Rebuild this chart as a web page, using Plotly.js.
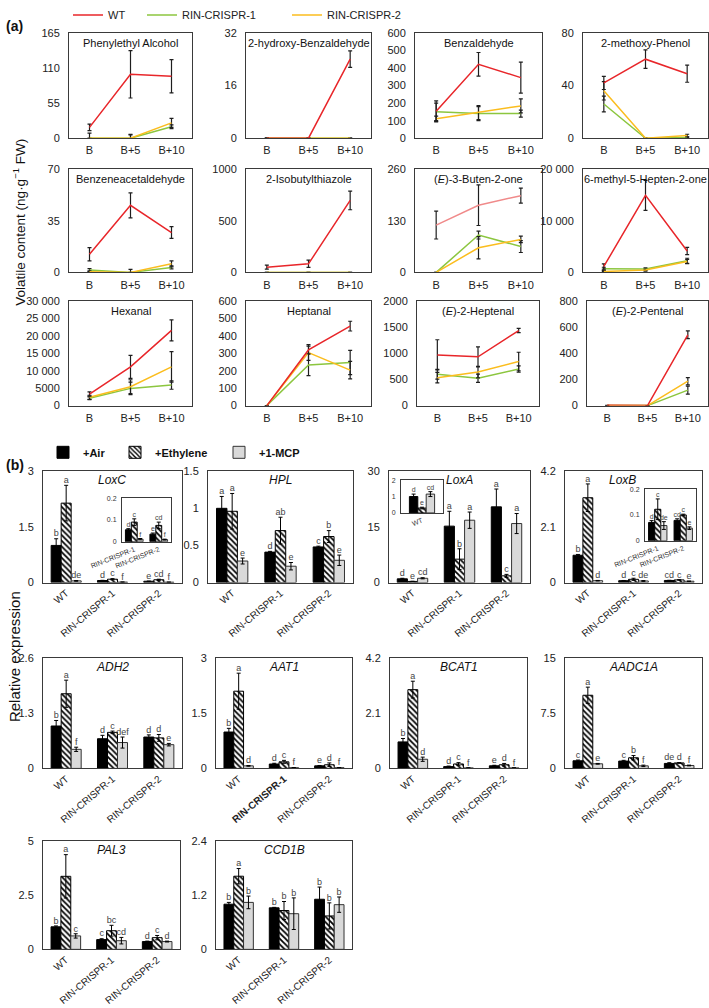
<!DOCTYPE html>
<html><head><meta charset="utf-8">
<script src="https://cdn.plot.ly/plotly-3.0.1.min.js"></script>
<style>html,body{margin:0;padding:0;background:#fff;} #chart{width:709px;height:1008px;}</style>
</head><body><div id="chart"></div>
<script>
// ---------- Panel (a) data ----------
const timePoints = ['B', 'B+5', 'B+10'];
const compounds = ['Phenylethyl Alcohol', '2-hydroxy-Benzaldehyde', 'Benzaldehyde', '2-methoxy-Phenol',
  'Benzeneacetaldehyde', '2-Isobutylthiazole', '(<i>E</i>)-3-Buten-2-one', '6-methyl-5-Hepten-2-one',
  'Hexanal', 'Heptanal', '(<i>E</i>)-2-Heptenal', '(<i>E</i>)-2-Pentenal'];
const compoundTicks = [[0,55,110,165],[0,16,32],[0,100,200,300,400,500,600],[0,40,80],
  [0,35,70],[0,500,1000],[0,130,260],[0,10000,20000],
  [0,5000,10000,15000,20000,25000,30000],[0,100,200,300,400,500,600],[0,500,1000,1500,2000],[0,200,400,600,800]];
const wtMean   = [[17,100,97],[0,0,24],[153,421,345],[42,60,49],[12.3,45.4,27],[51,83,696],[119,169,193],[1150,14900,4150],[3330,11140,21620],[0,320,457],[972,934,1438],[2,0,543]];
const wtErr    = [[5,37,26],[0,0,2.5],[60,67,88],[5,7,6.5],[4.5,8.5,4],[20,35,90],[35,51,19],[500,2900,700],[600,3300,3000],[0,22,28],[290,190,40],[0,0,30]];
const rin1Mean = [[0,0,18],[0,0,0],[150,140,140],[26,0,0.5],[1.6,0,3.4],[0,0,0],[0,94,65],[700,640,2240],[2100,4950,5900],[0,234,248],[600,524,700],[0,0,119]];
const rin1Err  = [[0,6,3],[0,0,0],[50,40,20],[6,0,0.5],[1,0,1],[0,0,0],[0,10,15],[300,250,500],[400,1800,1200],[0,62,70],[94,80,60],[0,0,31]];
const rin2Mean = [[0,0,24],[0,0,0],[111,146,184],[36,0,2],[0.5,0,5.8],[0,0,0],[0,62,83],[190,450,2100],[2380,5430,11140],[0,305,204],[536,643,845],[0,0,187]];
const rin2Err  = [[8,5,7],[0,0,0],[15,40,40],[7,0,1],[0.5,2,2],[0,0,0],[0,28,8],[100,200,400],[600,2000,4400],[0,45,50],[100,110,177],[0,0,28]];

// ---------- Panel (b) data ----------
const genotypes = ['WT', 'RIN-CRISPR-1', 'RIN-CRISPR-2'];
const genes = ['LoxC','HPL','LoxA','LoxB','ADH2','AAT1','BCAT1','AADC1A','PAL3','CCD1B'];
const geneTicks = [[0,1.5,3],[0,0.5,1,1.5],[0,15,30],[0,2.1,4.2],[0,1.3,2.6],[0,1.5,3],[0,2.1,4.2],[0,7.5,15],[0,2.5,5],[0,1.2,2.4]];
const airMean = [[1.0,0.055,0.035],[1.0,0.41,0.48],[1.0,15.2,20.4],[1.03,0.071,0.079],[1.0,0.70,0.74],[0.99,0.12,0.07],[1.01,0.07,0.1],[1.04,1.0,0.68],[1.04,0.45,0.36],[1.0,0.92,1.11]];
const airErr  = [[0.18,0.005,0.005],[0.16,0.01,0.01],[0.15,4,4.8],[0.03,0.007,0.006],[0.13,0.08,0.05],[0.1,0.02,0.01],[0.13,0.02,0.02],[0.1,0.1,0.1],[0.04,0.04,0.02],[0.04,0.01,0.27]];
const ethMean = [[2.14,0.09,0.075],[0.96,0.70,0.62],[0.3,6.3,1.8],[3.2,0.122,0.1],[1.76,0.85,0.72],[2.1,0.18,0.1],[3.0,0.17,0.14],[9.95,1.45,0.75],[3.37,0.86,0.54],[1.62,0.86,0.74]];
const ethErr  = [[0.48,0.015,0.015],[0.24,0.18,0.08],[0.05,2.8,0.4],[0.52,0.04,0.003],[0.32,0.03,0.08],[0.49,0.04,0.05],[0.32,0.05,0.05],[1.1,0.3,0.05],[1.0,0.25,0.1],[0.17,0.2,0.29]];
const mcpMean = [[0.045,0.012,0.01],[0.29,0.22,0.30],[1.15,16.8,15.9],[0.07,0.059,0.049],[0.45,0.61,0.56],[0.07,0.02,0.02],[0.35,0.02,0.02],[0.63,0.35,0.4],[0.62,0.4,0.36],[1.04,0.79,0.99]];
const mcpErr  = [[0.01,0.003,0.002],[0.04,0.05,0.07],[0.15,2.2,2.7],[0.01,0.015,0.005],[0.05,0.13,0.03],[0.01,0.005,0.005],[0.08,0.005,0.005],[0.05,0.1,0.05],[0.1,0.15,0.02],[0.14,0.35,0.17]];
const airLetters = [['b','d','e'],['a','d','c'],['d','a','a'],['b','d','cd'],['b','d','d'],['b','d','e'],['b','d','e'],['c','c','de'],['b','c','d'],['b','b','b']];
const ethLetters = [['a','c','cd'],['a','ab','b'],['e','b','c'],['a','c','c'],['a','c','d'],['a','c','d'],['a','c','d'],['a','b','d'],['a','bc','c'],['a','b','b']];
const mcpLetters = [['de','f','f'],['e','e','e'],['cd','a','a'],['d','de','e'],['f','def','e'],['d','f','f'],['d','f','f'],['e','f','f'],['c','cd','d'],['b','b','b']];
// insets (subset of the same data)
const insetGenes = ['LoxC','LoxA','LoxB'];
const insetGenotypeIdx = [[1,2],[0],[1,2]];
const insetTicks = [[0,0.1,0.2],[0,1,2],[0,0.1,0.2]];

// ---------- Layout helpers ----------
const W = 709, H = 1008;
const FONT = 'Arial, "Liberation Sans", sans-serif';
function dom(b){ return {x:[b[0]/W, b[1]/W], y:[1-b[3]/H, 1-b[2]/H]}; }
function fmt(v){ if (Math.abs(v) >= 10000) return String(v).replace(/\B(?=(\d{3})+(?!\d))/g, ' '); return String(v); }
const aBoxes = [[69,192,27,133],[246,371,27,133],[415,542,27,133],[583,708,27,133],
  [69,192,164,268],[246,371,164,268],[415,542,164,268],[583,708,164,268],
  [69,192,297,402],[246,371,297,402],[417,539,297,402],[587,708,297,402]];
const bBoxes = [[43,182,468,580],[208,353,468,580],[389,530,468,580],[565,702,468,580],
  [43,182,656,767],[216,352,656,767],[390,527,656,767],[565,702,656,767],
  [43,180,840,949],[216,352,840,949]];
const insetBoxes = [[122,171,495,539],[401,443,477,510],[645,696,486,538]];

const traces = [];
const layout = {
  width: W, height: H, margin:{l:0,r:0,t:0,b:0}, paper_bgcolor:'#fff', plot_bgcolor:'rgba(0,0,0,0)',
  font:{family:FONT, size:11, color:'#222'}, showlegend:true, annotations:[], shapes:[]
};
function axName(k){ return k===1 ? '' : String(k); }
function baseAx(extra){
  return Object.assign({showline:true, mirror:true, linecolor:'#3a3a3a', linewidth:1, showgrid:false,
    zeroline:false, ticks:'', fixedrange:true, automargin:false, tickfont:{family:FONT, size:11, color:'#222'}}, extra);
}

// ---------- Panel (a) ----------
const lineColors = {wt:'#e8262a', r1:'#8cc63f', r2:'#fbbd1e'};
compounds.forEach((name, i) => {
  const k = i + 1, d = dom(aBoxes[i]);
  const ticks = compoundTicks[i];
  layout['xaxis'+axName(k)] = baseAx({domain:d.x, anchor:'y'+axName(k), type:'category',
    categoryarray: timePoints, range:[-0.5, 2.5], ticklabelstandoff:2});
  layout['yaxis'+axName(k)] = baseAx({domain:d.y, anchor:'x'+axName(k), range:[0, ticks[ticks.length-1]],
    tickmode:'array', tickvals:ticks, ticktext:ticks.map(fmt), ticklabelstandoff:6});
  const series = [
    {nm:'RIN-CRISPR-1', m:rin1Mean[i], e:rin1Err[i], c:lineColors.r1, lg:'legend2'},
    {nm:'RIN-CRISPR-2', m:rin2Mean[i], e:rin2Err[i], c:lineColors.r2, lg:'legend3'},
    {nm:'WT', m:wtMean[i], e:wtErr[i], c:(i===6 ? '#f08a8a' : lineColors.wt), lg:'legend'}
  ];
  series.forEach(s => {
    traces.push({type:'scatter', mode:'lines', name:s.nm, x:timePoints, y:s.m,
      xaxis:'x'+axName(k), yaxis:'y'+axName(k), line:{color:s.c, width:1.5},
      error_y:{type:'data', array:s.e, visible:true, color:'#1e1e1e', thickness:1.2, width:2},
      cliponaxis:false, showlegend:(i===0), legend:s.lg, hoverinfo:'skip'});
  });
  layout.annotations.push({xref:'x'+axName(k)+' domain', yref:'y'+axName(k)+' domain', x:0.5, y:1, yshift:-2,
    xanchor:'center', yanchor:'top', showarrow:false, text:name, font:{family:FONT, size:11, color:'#111'}});
});

// ---------- Panel (b) ----------
const barStyles = [
  {name:'+Air', marker:{color:'#000', line:{color:'#000', width:1}}, lg:'legend4'},
  {name:'+Ethylene', marker:{color:'#fff', pattern:{shape:'\\', fgcolor:'#000', bgcolor:'#fff', size:4, solidity:0.45}, line:{color:'#000', width:1}}, lg:'legend5'},
  {name:'+1-MCP', marker:{color:'#d9d9d9', line:{color:'#333', width:1}}, lg:'legend6'}
];
const meansB = [airMean, ethMean, mcpMean], errsB = [airErr, ethErr, mcpErr], lettersB = [airLetters, ethLetters, mcpLetters];

function addBars(k, geneIdx, gIdx, bw, letterSize, showLeg){
  meansB.forEach((M, s) => {
    const xs = gIdx.map((g, p) => p + (s-1)*bw);
    const ys = gIdx.map(g => M[geneIdx][g]);
    const es = gIdx.map(g => errsB[s][geneIdx][g]);
    traces.push(Object.assign({type:'bar', name:barStyles[s].name, x:xs, y:ys, width:bw,
      xaxis:'x'+axName(k), yaxis:'y'+axName(k), marker:barStyles[s].marker,
      error_y:{type:'data', array:es, visible:true, color:'#000', thickness:1, width:2},
      showlegend:showLeg, legend:barStyles[s].lg, hoverinfo:'skip', cliponaxis:false}));
    traces.push({type:'scatter', mode:'text', x:xs, y:ys.map((v,q) => v + es[q]),
      text:gIdx.map(g => lettersB[s][geneIdx][g]), textposition:'top center',
      textfont:{family:FONT, size:letterSize, color:'#444'}, xaxis:'x'+axName(k), yaxis:'y'+axName(k),
      showlegend:false, hoverinfo:'skip', cliponaxis:false});
  });
}

genes.forEach((gene, j) => {
  const k = 13 + j, d = dom(bBoxes[j]);
  const ticks = geneTicks[j];
  const tt = genotypes.map((g, q) => (gene === 'AAT1' && q === 1) ? '<b>'+g+'</b>' : g);
  layout['xaxis'+axName(k)] = baseAx({domain:d.x, anchor:'y'+axName(k), range:[-0.5, 2.5],
    tickmode:'array', tickvals:[0,1,2], ticktext:tt, tickangle:-40, tickfont:{family:FONT, size:10, color:'#222'}});
  layout['yaxis'+axName(k)] = baseAx({domain:d.y, anchor:'x'+axName(k), range:[0, ticks[ticks.length-1]],
    tickmode:'array', tickvals:ticks, ticktext:ticks.map(fmt), ticklabelstandoff:6});
  addBars(k, j, [0,1,2], 0.216, 9, j === 0);
  layout.annotations.push({xref:'x'+axName(k)+' domain', yref:'y'+axName(k)+' domain',
    x:(gene === 'LoxB' ? 0.42 : 0.5), y:1, yshift:0,
    xanchor:'center', yanchor:'top', showarrow:false, text:'<i>'+gene+'</i>', font:{family:FONT, size:12, color:'#111'}});
});

insetGenes.forEach((gene, m) => {
  const k = 23 + m, d = dom(insetBoxes[m]);
  const j = genes.indexOf(gene);
  const gIdx = insetGenotypeIdx[m];
  const ticks = insetTicks[m];
  layout['xaxis'+axName(k)] = baseAx({domain:d.x, anchor:'y'+axName(k), range:[-0.5, gIdx.length-0.5],
    tickmode:'array', tickvals:gIdx.map((g,p)=>p), ticktext:gIdx.map(g => genotypes[g]), tickangle:-22,
    tickfont:{family:FONT, size:7, color:'#333'}});
  layout['yaxis'+axName(k)] = baseAx({domain:d.y, anchor:'x'+axName(k), range:[0, ticks[ticks.length-1]],
    tickmode:'array', tickvals:ticks, ticktext:ticks.map(fmt), ticklabelstandoff:3,
    tickfont:{family:FONT, size:7, color:'#333'}});
  addBars(k, j, gIdx, gIdx.length === 1 ? 0.2 : 0.24, 7, false);
});

// ---------- Legends ----------
const legCommon = {orientation:'h', yanchor:'middle', xanchor:'left', bgcolor:'rgba(0,0,0,0)', itemwidth:30, tracegroupgap:0};
layout.legend  = Object.assign({}, legCommon, {x:68/W,  y:1-9/H, font:{family:FONT, size:11, color:'#222'}});
layout.legend2 = Object.assign({}, legCommon, {x:142/W, y:1-9/H, font:{family:FONT, size:11, color:'#222'}});
layout.legend3 = Object.assign({}, legCommon, {x:287/W, y:1-9/H, font:{family:FONT, size:11, color:'#222'}});
layout.legend4 = Object.assign({}, legCommon, {x:43/W,  y:1-449/H, font:{family:FONT, size:11, color:'#111', weight:'bold'}});
layout.legend5 = Object.assign({}, legCommon, {x:115/W, y:1-449/H, font:{family:FONT, size:11, color:'#111', weight:'bold'}});
layout.legend6 = Object.assign({}, legCommon, {x:219/W, y:1-449/H, font:{family:FONT, size:11, color:'#111', weight:'bold'}});

// ---------- Panel labels and axis titles ----------
layout.annotations.push(
  {xref:'paper', yref:'paper', x:4/W, y:1-20/H, xanchor:'left', yanchor:'middle', showarrow:false,
    text:'<b>(a)</b>', font:{family:FONT, size:14, color:'#111'}},
  {xref:'paper', yref:'paper', x:4/W, y:1-462/H, xanchor:'left', yanchor:'middle', showarrow:false,
    text:'<b>(b)</b>', font:{family:FONT, size:14, color:'#111'}},
  {xref:'paper', yref:'paper', x:19/W, y:1-218/H, xanchor:'center', yanchor:'middle', showarrow:false, textangle:-90,
    text:'Volatile content (ng·g<sup>−1</sup> FW)', font:{family:FONT, size:13.5, color:'#111'}},
  {xref:'paper', yref:'paper', x:14/W, y:1-655/H, xanchor:'center', yanchor:'middle', showarrow:false, textangle:-90,
    text:'Relative expression', font:{family:FONT, size:15, color:'#111'}}
);

Plotly.newPlot('chart', traces, layout, {staticPlot:true, displayModeBar:false});
</script>
</body></html>
